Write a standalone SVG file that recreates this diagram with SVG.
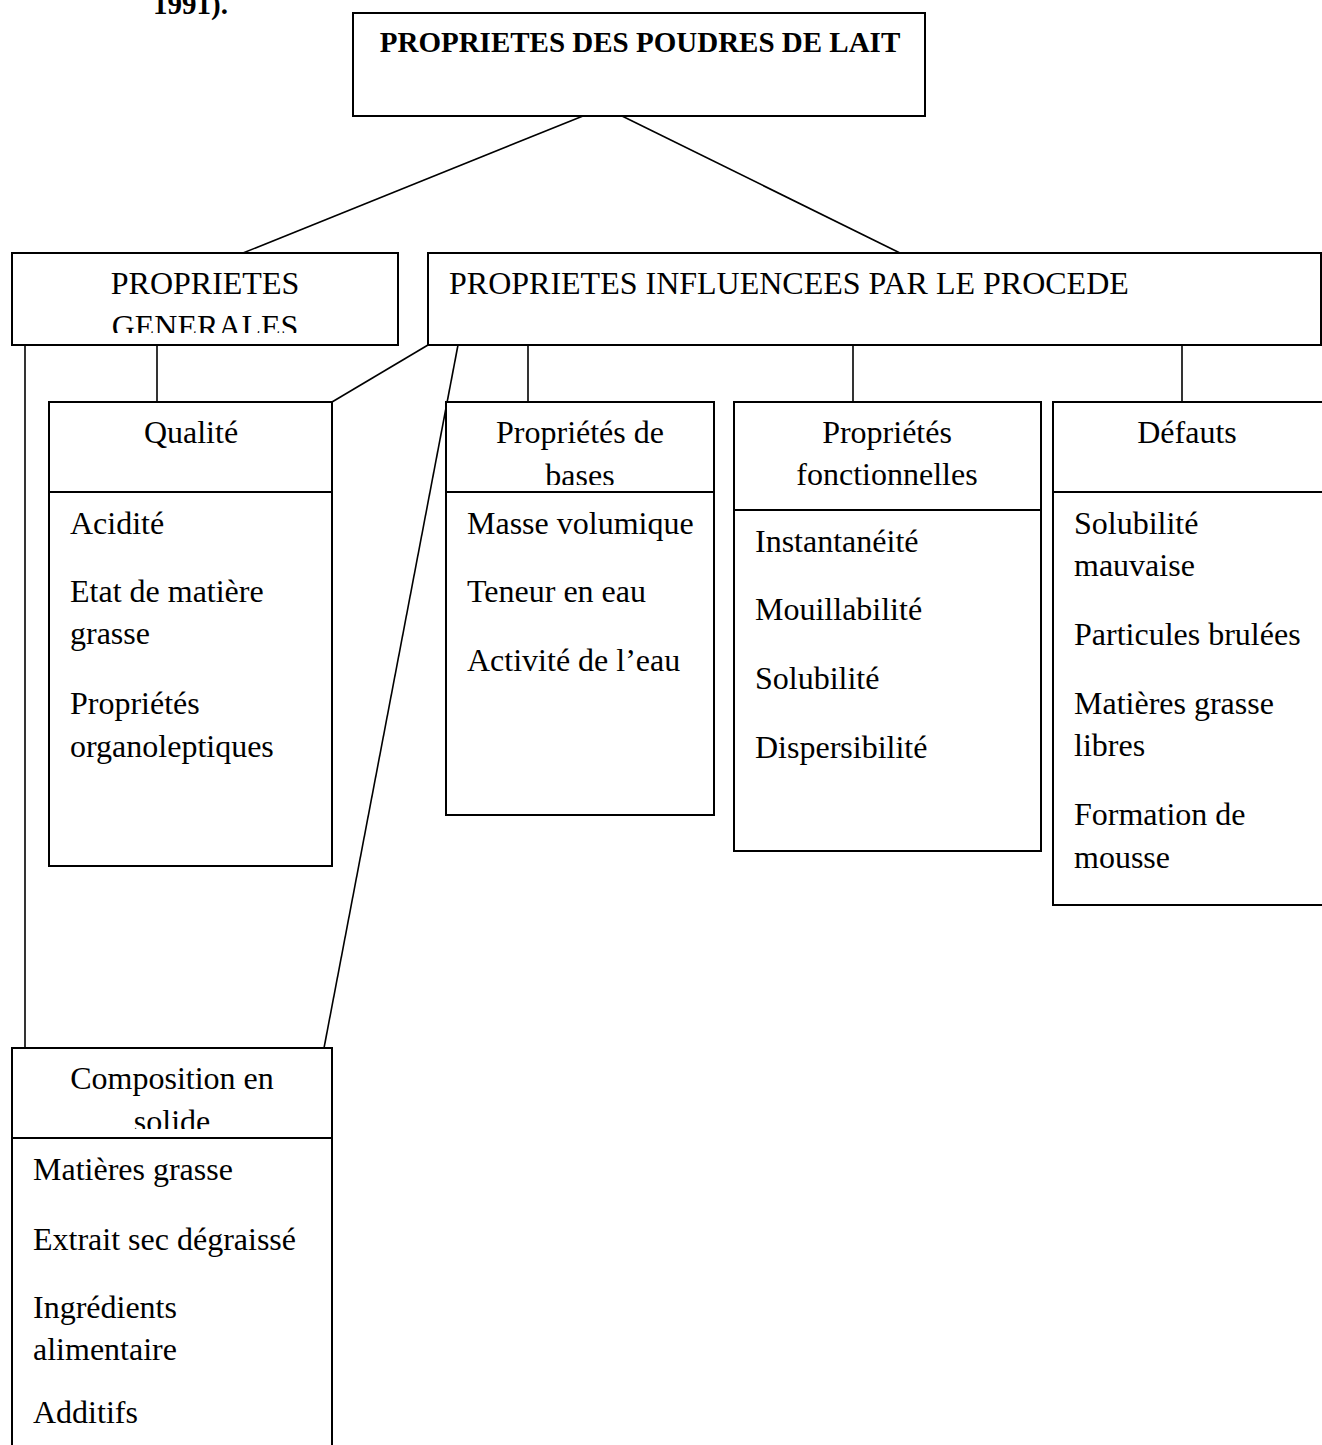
<svg xmlns="http://www.w3.org/2000/svg" width="1322" height="1445" viewBox="0 0 1322 1445">
<style>
  .box{fill:#fff;stroke:#000;stroke-width:2}
  .div{stroke:#000;stroke-width:2}
  .con{stroke:#000;stroke-width:1.6;fill:none}
  text{font-family:"Liberation Serif","Times New Roman",serif;font-size:32px;fill:#000}
  .b{font-weight:bold;font-size:29px}
  .c{text-anchor:middle}
</style>
<defs>
  <clipPath id="cGen"><rect x="12" y="253" width="386" height="80"/></clipPath>
  <clipPath id="cBas"><rect x="446" y="402" width="268" height="83"/></clipPath>
  <clipPath id="cComp"><rect x="12" y="1048" width="320" height="81"/></clipPath>
</defs>
<rect width="1322" height="1445" fill="#fff"/>
<text class="b" x="153" y="14">1991).</text>

<g id="connectors">
  <line class="con" x1="583" y1="116" x2="243" y2="253"/>
  <line class="con" x1="622" y1="116" x2="900" y2="253"/>
  <line class="con" x1="25" y1="345" x2="25" y2="1048"/>
  <line class="con" x1="157" y1="345" x2="157" y2="402"/>
  <line class="con" x1="428" y1="345" x2="332" y2="402"/>
  <line class="con" x1="458" y1="345" x2="324" y2="1048"/>
  <line class="con" x1="528" y1="345" x2="528" y2="402"/>
  <line class="con" x1="853" y1="345" x2="853" y2="402"/>
  <line class="con" x1="1182" y1="345" x2="1182" y2="402"/>
</g>

<g id="root">
  <rect class="box" x="353" y="13" width="572" height="103"/>
  <text class="b c" x="640" y="52">PROPRIETES DES POUDRES DE LAIT</text>
</g>

<g id="generales">
  <rect class="box" x="12" y="253" width="386" height="92"/>
  <g clip-path="url(#cGen)">
    <text class="c" x="205" y="294">PROPRIETES</text>
    <text class="c" x="205" y="337">GENERALES</text>
  </g>
</g>

<g id="influencees">
  <rect class="box" x="428" y="253" width="893" height="92"/>
  <text x="449" y="294">PROPRIETES INFLUENCEES PAR LE PROCEDE</text>
</g>

<g id="qualite">
  <rect class="box" x="49" y="402" width="283" height="464"/>
  <line class="div" x1="49" y1="492" x2="332" y2="492"/>
  <text class="c" x="191" y="443">Qualité</text>
  <text x="70" y="534">Acidité</text>
  <text x="70" y="602">Etat de matière</text>
  <text x="70" y="644">grasse</text>
  <text x="70" y="714">Propriétés</text>
  <text x="70" y="757">organoleptiques</text>
</g>

<g id="bases">
  <rect class="box" x="446" y="402" width="268" height="413"/>
  <line class="div" x1="446" y1="492" x2="714" y2="492"/>
  <g clip-path="url(#cBas)">
    <text class="c" x="580" y="443">Propriétés de</text>
    <text class="c" x="580" y="486">bases</text>
  </g>
  <text x="467" y="534">Masse volumique</text>
  <text x="467" y="602">Teneur en eau</text>
  <text x="467" y="671">Activité de l’eau</text>
</g>

<g id="fonctionnelles">
  <rect class="box" x="734" y="402" width="307" height="449"/>
  <line class="div" x1="734" y1="510" x2="1041" y2="510"/>
  <text class="c" x="887" y="443">Propriétés</text>
  <text class="c" x="887" y="485">fonctionnelles</text>
  <text x="755" y="552">Instantanéité</text>
  <text x="755" y="620">Mouillabilité</text>
  <text x="755" y="689">Solubilité</text>
  <text x="755" y="758">Dispersibilité</text>
</g>

<g id="defauts">
  <rect class="box" x="1053" y="402" width="280" height="503"/>
  <line class="div" x1="1053" y1="492" x2="1322" y2="492"/>
  <text class="c" x="1187" y="443">Défauts</text>
  <text x="1074" y="534">Solubilité</text>
  <text x="1074" y="576">mauvaise</text>
  <text x="1074" y="645">Particules brulées</text>
  <text x="1074" y="714">Matières grasse</text>
  <text x="1074" y="756">libres</text>
  <text x="1074" y="825">Formation de</text>
  <text x="1074" y="868">mousse</text>
</g>

<g id="composition">
  <rect class="box" x="12" y="1048" width="320" height="420"/>
  <line class="div" x1="12" y1="1138" x2="332" y2="1138"/>
  <g clip-path="url(#cComp)">
    <text class="c" x="172" y="1089">Composition en</text>
    <text class="c" x="172" y="1132">solide</text>
  </g>
  <text x="33" y="1180">Matières grasse</text>
  <text x="33" y="1250">Extrait sec dégraissé</text>
  <text x="33" y="1318">Ingrédients</text>
  <text x="33" y="1360">alimentaire</text>
  <text x="33" y="1423">Additifs</text>
</g>
</svg>
